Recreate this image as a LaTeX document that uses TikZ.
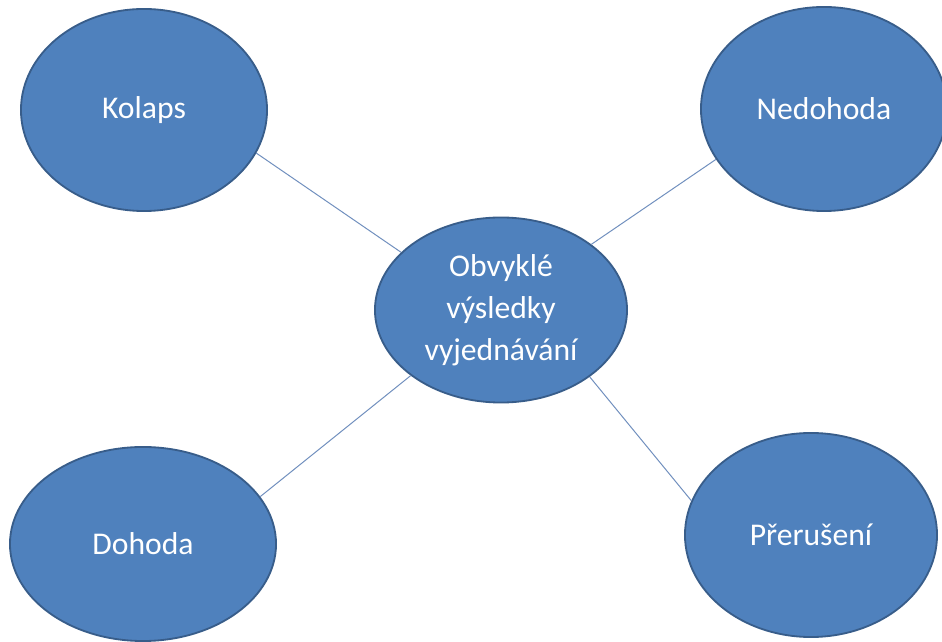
\documentclass[tikz,border=0pt]{standalone}
\usepackage{fontspec}
\setmainfont{Carlito}
\usetikzlibrary{shapes.geometric}
\definecolor{bubblefill}{RGB}{79,129,189}
\definecolor{bubbleedge}{RGB}{56,93,138}
\definecolor{linkcol}{RGB}{112,143,190}
\begin{document}
\begin{tikzpicture}[x=0.025cm, y=-0.025cm, font=\fontsize{22.5}{30}\selectfont,
 bubble/.style={ellipse, draw=bubbleedge, fill=bubblefill, line width=1.3pt, inner sep=0pt, text=white, align=center},
 link/.style={draw=linkcol, line width=0.7pt}]
 \clip (0,0) rectangle (942,642);
 \fill[white] (0,0) rectangle (942,642);
 \node[bubble, minimum width=6.3cm, minimum height=4.625cm] (ctr) at (501,310) {Obvyklé\\výsledky\\vyjednávání};
 \node[bubble, minimum width=6.15cm, minimum height=5.05cm] (kol) at (144,110) {Kolaps};
 \node[bubble, minimum width=6.15cm, minimum height=5.1cm] (ned) at (824,109) {Nedohoda};
 \node[bubble, minimum width=6.65cm, minimum height=4.85cm] (doh) at (143,544) {Dohoda};
 \node[bubble, minimum width=6.3cm, minimum height=5.1cm] (pre) at (811,535) {Přerušení};
 % spojnice
 \draw[link] (kol.-21) -- (ctr.150);
 \draw[link] (ned.-155) -- (ctr.36);
 \draw[link] (doh.22) -- (ctr.-144);
 \draw[link] (pre.164) -- (ctr.-37);
\end{tikzpicture}
\end{document}
